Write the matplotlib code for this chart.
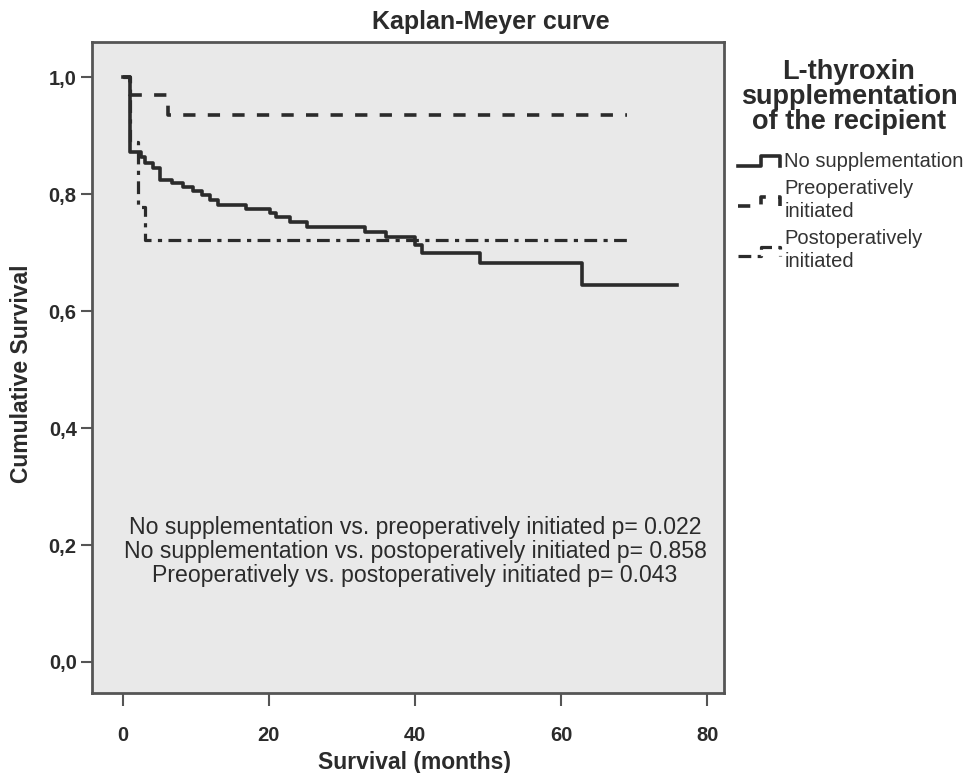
import matplotlib
matplotlib.use('Agg')
import matplotlib.pyplot as plt
from matplotlib.lines import Line2D
from matplotlib.legend_handler import HandlerLine2D

# survival step data (time in months, cumulative survival)
none_t = [0, 1.0, 2.5, 3.0, 4.1, 5.1, 6.7, 8.3, 9.6, 10.8, 11.9, 13.0, 16.9, 20.1,
          21.0, 22.9, 25.2, 33.2, 36.1, 40.0, 40.9, 48.9, 62.8, 75.8]
none_s = [1.0, 0.872, 0.864, 0.853, 0.844, 0.824, 0.819, 0.812, 0.806, 0.798, 0.790,
          0.781, 0.774, 0.767, 0.760, 0.753, 0.744, 0.736, 0.727, 0.713, 0.699,
          0.682, 0.645, 0.645]
pre_t = [0, 1.0, 6.2, 69.0]
pre_s = [1.0, 0.969, 0.935, 0.935]
post_t = [0, 1.0, 2.1, 3.0, 69.5]
post_s = [1.0, 0.889, 0.778, 0.722, 0.722]

group_names = ['No supplementation', 'Preoperatively\ninitiated', 'Postoperatively\ninitiated']
pvalues = [
    'No supplementation vs. preoperatively initiated p= 0.022',
    'No supplementation vs. postoperatively initiated p= 0.858',
    'Preoperatively vs. postoperatively initiated p= 0.043',
]
xticks = [0, 20, 40, 60, 80]
yticks = [0.0, 0.2, 0.4, 0.6, 0.8, 1.0]

plain = ['Liberation Sans', 'DejaVu Sans']
ink = '#2b2b2b'


class StepHandler(HandlerLine2D):
    """legend key drawn as a small step like the curves"""
    def create_artists(self, legend, orig_handle, xdescent, ydescent, width, height,
                       fontsize, trans):
        x0, x1 = -xdescent, -xdescent + width
        xm = x0 + 0.55 * width
        ylo = -ydescent + 0.1 * height
        yhi = -ydescent + 0.75 * height
        line = Line2D([x0, xm, xm, x1, x1], [ylo, ylo, yhi, yhi, ylo])
        self.update_prop(line, orig_handle, legend)
        line.set_transform(trans)
        return [line]


fig = plt.figure(figsize=(9.68, 7.73), dpi=100)
ax = fig.add_axes([92 / 968, 1 - 693 / 773, (724 - 92) / 968, (693 - 42) / 773])
ax.set_facecolor('#e9e9e9')

l1, = ax.step(none_t, none_s, where='post', color=ink, lw=2.6, ls='-')
l2, = ax.step(pre_t, pre_s, where='post', color=ink, lw=2.6, ls=(0, (3.4, 3.4)))
l3, = ax.step(post_t, post_s, where='post', color=ink, lw=2.3, ls=(0, (4, 2, 1.3, 2)))

ax.set_xlim(-4.2, 82.3)
ax.set_ylim(-0.053, 1.06)
ax.set_xticks(xticks)
ax.set_yticks(yticks)
ax.set_xticklabels([str(v) for v in xticks], family=plain, weight='bold', fontsize=14.5, color=ink)
ax.set_yticklabels([('%.1f' % v).replace('.', ',') for v in yticks], family=plain,
                   weight='bold', fontsize=14.5, color=ink)
ax.tick_params(axis='x', direction='out', length=9, width=1.5, color='#555555', pad=15)
ax.tick_params(axis='y', direction='out', length=8, width=1.5, color='#555555', pad=3)
for sp in ax.spines.values():
    sp.set_color('#555555')
    sp.set_linewidth(2)

ax.set_xlabel('Survival (months)', family=plain, weight='bold', fontsize=16.5, color=ink,
              va='center')
ax.xaxis.set_label_coords(0.51, -0.106)
ax.set_ylabel('Cumulative Survival', family=plain, weight='bold', fontsize=16.5, color=ink,
              va='center')
ax.yaxis.set_label_coords(-0.111, 0.49)

fig.text(491 / 968, 1 - 22 / 773, 'Kaplan-Meyer curve', family=plain, weight='bold',
         fontsize=18, color=ink, ha='center', va='center')

ax.text(0.511, 0.217, '\n'.join(pvalues), transform=ax.transAxes, ha='center', va='center',
        family=plain, fontsize=16.6, color=ink, linespacing=1.07)

fig.text(849 / 968, 1 - 97 / 773, 'L-thyroxin\nsupplementation\nof the recipient',
         family=plain, weight='bold', fontsize=19.5, color=ink, ha='center', va='center',
         linespacing=0.97)

leg = fig.legend([l1, l2, l3], group_names, loc='upper left',
                 bbox_to_anchor=(738 / 968, 1 - 152 / 773), frameon=False,
                 handler_map={Line2D: StepHandler()}, handlelength=2.1, handletextpad=0.2,
                 labelspacing=0.4, borderaxespad=0, borderpad=0,
                 prop={'family': plain, 'size': 14.5})
for t in leg.get_texts():
    t.set_color('#333333')
    t.set_linespacing(1.25)

fig.savefig('out.png', dpi=100, facecolor='white')
